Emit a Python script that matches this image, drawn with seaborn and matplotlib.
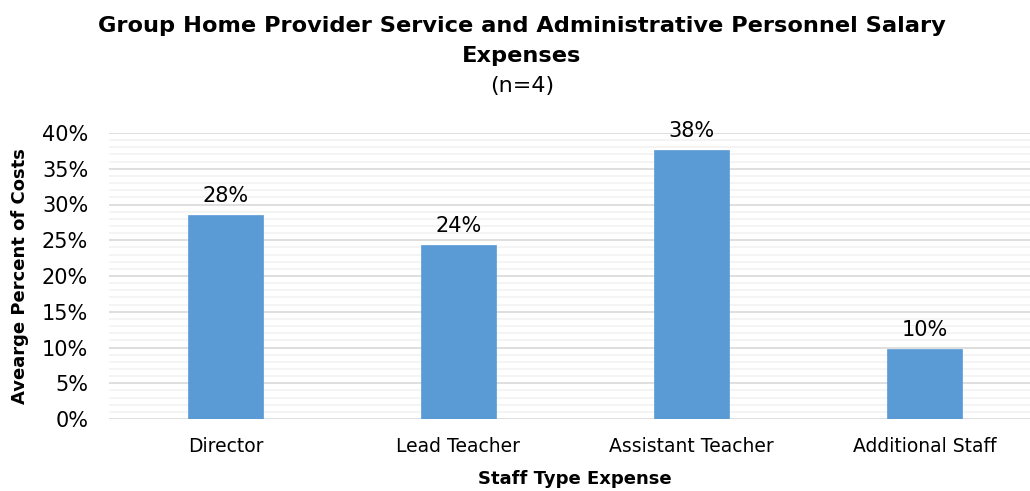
import matplotlib
matplotlib.use("Agg")
import matplotlib.pyplot as plt
import seaborn as sns
import pandas as pd
from matplotlib.ticker import MultipleLocator, PercentFormatter

categories = ["Director", "Lead Teacher", "Assistant Teacher", "Additional Staff"]
values = [28.5, 24.3, 37.6, 9.8]
labels = ["28%", "24%", "38%", "10%"]

sns.set_theme(style="white")
plt.rcParams['font.family'] = ['DejaVu Sans']
plt.rcParams['text.color'] = 'black'

df = pd.DataFrame({"cat": categories, "val": values})

W, H = 1030, 491
fig = plt.figure(figsize=(W / 100, H / 100), dpi=100)
ax = fig.add_axes([109 / W, (H - 419) / H, (1041 - 109) / W, (419 - 133) / H])

sns.barplot(data=df, x="cat", y="val", color="#5B9BD5", width=0.32, ax=ax,
            saturation=1, edgecolor="#5B9BD5", linewidth=0.5, zorder=3)

ax.set_ylim(0, 40)
ax.set_xlim(-0.5, 3.5)
ax.yaxis.set_major_locator(MultipleLocator(5))
ax.yaxis.set_minor_locator(MultipleLocator(1))
ax.yaxis.set_major_formatter(PercentFormatter(decimals=0))
ax.grid(which="major", axis="y", color="#D9D9D9", linewidth=1.2, zorder=0)
ax.grid(which="minor", axis="y", color="#F2F2F2", linewidth=1.2, zorder=0)
ax.set_axisbelow(True)
for s in ax.spines.values():
    s.set_visible(False)
ax.tick_params(axis="y", which="both", length=0, labelsize=15, pad=15, colors="black")
ax.tick_params(axis="x", length=0, labelsize=13.5, pad=13, colors="black")

for i, (v, lab) in enumerate(zip(values, labels)):
    ax.text(i, v + 1.3, lab, ha="center", va="bottom", fontsize=15, color="black")

ax.set_xlabel("Staff Type Expense", fontsize=13, fontweight="bold", labelpad=10, color="black")
ax.set_ylabel("Avearge Percent of Costs", fontsize=13, fontweight="bold", color="black")
ax.yaxis.set_label_coords(-(109 - 29) / (1041 - 109), 0.5)

fig.text(522 / W, 1 - 26 / H, "Group Home Provider Service and Administrative Personnel Salary",
         ha="center", va="center", fontsize=16.2, fontweight="bold")
fig.text(522 / W, 1 - 56 / H, "Expenses", ha="center", va="center", fontsize=16.2, fontweight="bold")
fig.text(522 / W, 1 - 86 / H, "(n=4)", ha="center", va="center", fontsize=16)

fig.savefig("out.png", dpi=100, facecolor="white")
